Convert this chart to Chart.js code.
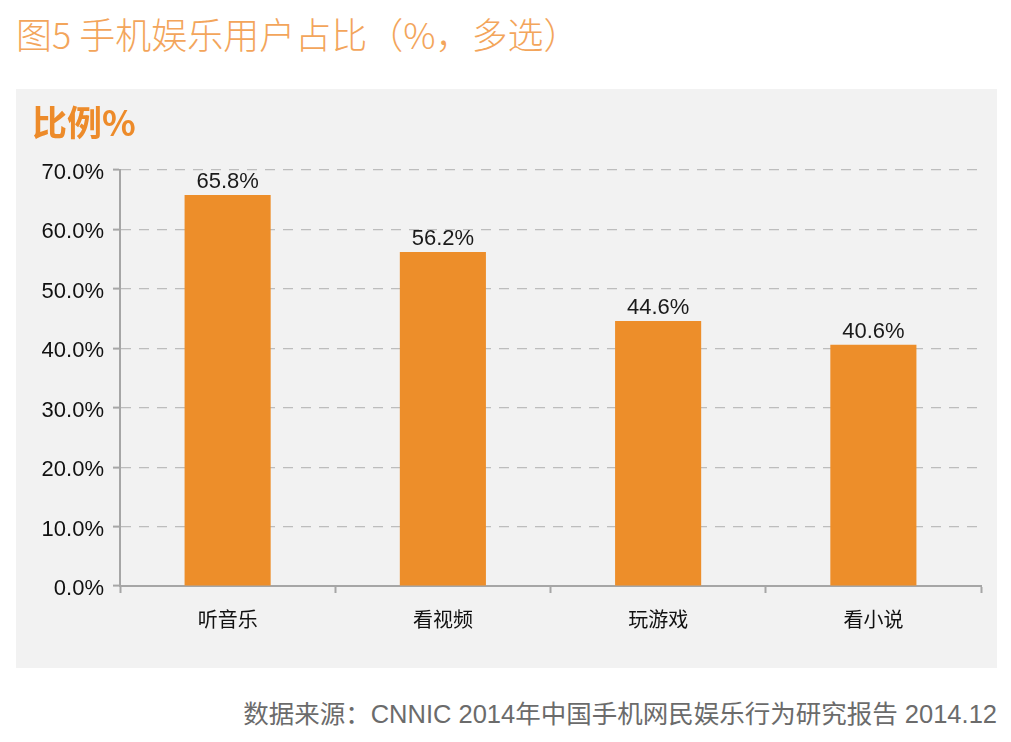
<!DOCTYPE html>
<html>
<head>
<meta charset="utf-8">
<script src="https://cdn.jsdelivr.net/npm/chart.js@4"></script>
<style>
  body { margin: 0; width: 1011px; height: 742px; background: #fff; position: relative; overflow: hidden;
         font-family: "Liberation Sans", "Noto Sans CJK SC", sans-serif; }
  #title { position: absolute; left: 16px; top: 15px; font-size: 36px; line-height: 1; color: #F3A55B; font-weight: 300;
           font-family: "Noto Sans CJK SC", sans-serif; white-space: nowrap; }
  #panel { position: absolute; left: 16px; top: 89px; width: 981px; height: 579px; background: #f2f2f2; }
  #unit { position: absolute; left: 16px; top: 14px; font-size: 35px; line-height: 1; font-weight: bold; color: #ED8B2A;
          font-family: "Noto Sans CJK SC", sans-serif; }
  #note { position: absolute; right: 14px; top: 702px; font-size: 25.5px; line-height: 1; color: #6b6b6b; white-space: nowrap;
          font-family: "Liberation Sans", "Noto Sans CJK SC", sans-serif; }
  canvas { position: absolute; left: 0; top: 0; }
</style>
</head>
<body>
<div id="title">图5 手机娱乐用户占比（%，多选）</div>
<div id="panel">
  <canvas id="chart" width="981" height="579"></canvas>
  <div id="unit">比例%</div>
</div>
<div id="note">数据来源：CNNIC 2014年中国手机网民娱乐行为研究报告 2014.12</div>
<script>
// 分类与数值
const categories = ['听音乐', '看视频', '玩游戏', '看小说'];
const shares = [65.8, 56.2, 44.6, 40.6];
const yTicks = [0, 10, 20, 30, 40, 50, 60, 70];

// 柱顶数值标签
const valueLabels = {
  id: 'valueLabels',
  afterDatasetsDraw(chart) {
    const ctx = chart.ctx;
    const meta = chart.getDatasetMeta(0);
    ctx.save();
    ctx.font = '22px "Liberation Sans", Arial, sans-serif';
    ctx.fillStyle = '#1a1a1a';
    ctx.textAlign = 'center';
    ctx.textBaseline = 'bottom';
    meta.data.forEach((bar, i) => {
      ctx.fillText(shares[i].toFixed(1) + '%', bar.x, bar.y - 2);
    });
    ctx.restore();
  }
};

new Chart(document.getElementById('chart'), {
  type: 'bar',
  data: {
    labels: categories,
    datasets: [{
      data: shares,
      backgroundColor: '#ED8E2A',
      barPercentage: 0.4,
      categoryPercentage: 1
    }]
  },
  options: {
    responsive: false,
    animation: false,
    layout: { padding: { top: 81, right: 16, left: 0, bottom: 0 } },
    plugins: { legend: { display: false }, tooltip: { enabled: false } },
    scales: {
      x: {
        afterFit(scale) { scale.height = 82; },
        grid: { offset: true, drawOnChartArea: false, drawTicks: true, tickLength: 7,
                tickColor: '#a6a6a6', tickWidth: 2 },
        border: { color: '#a6a6a6', width: 2 },
        ticks: { color: '#111', padding: 14, font: { size: 20, family: '"Noto Sans CJK SC", sans-serif' } }
      },
      y: {
        min: 0, max: 70,
        afterFit(scale) { scale.width = 104; },
        afterBuildTicks(scale) { scale.ticks = yTicks.map(v => ({ value: v })); },
        grid: {
          color: ctx => ctx.tick && ctx.tick.value === 0 ? 'rgba(0,0,0,0)' : '#bdbdbd',
          lineWidth: 1.2,
          tickLength: 7, tickColor: '#a6a6a6', tickWidth: 2, tickBorderDash: []
        },
        border: { color: '#a6a6a6', width: 2, dash: [10, 8] },
        ticks: {
          color: '#111', padding: 9, labelOffset: 3,
          font: { size: 22, family: '"Liberation Sans", Arial, sans-serif' },
          callback: v => v.toFixed(1) + '%'
        }
      }
    }
  },
  plugins: [valueLabels]
});
</script>
</body>
</html>
